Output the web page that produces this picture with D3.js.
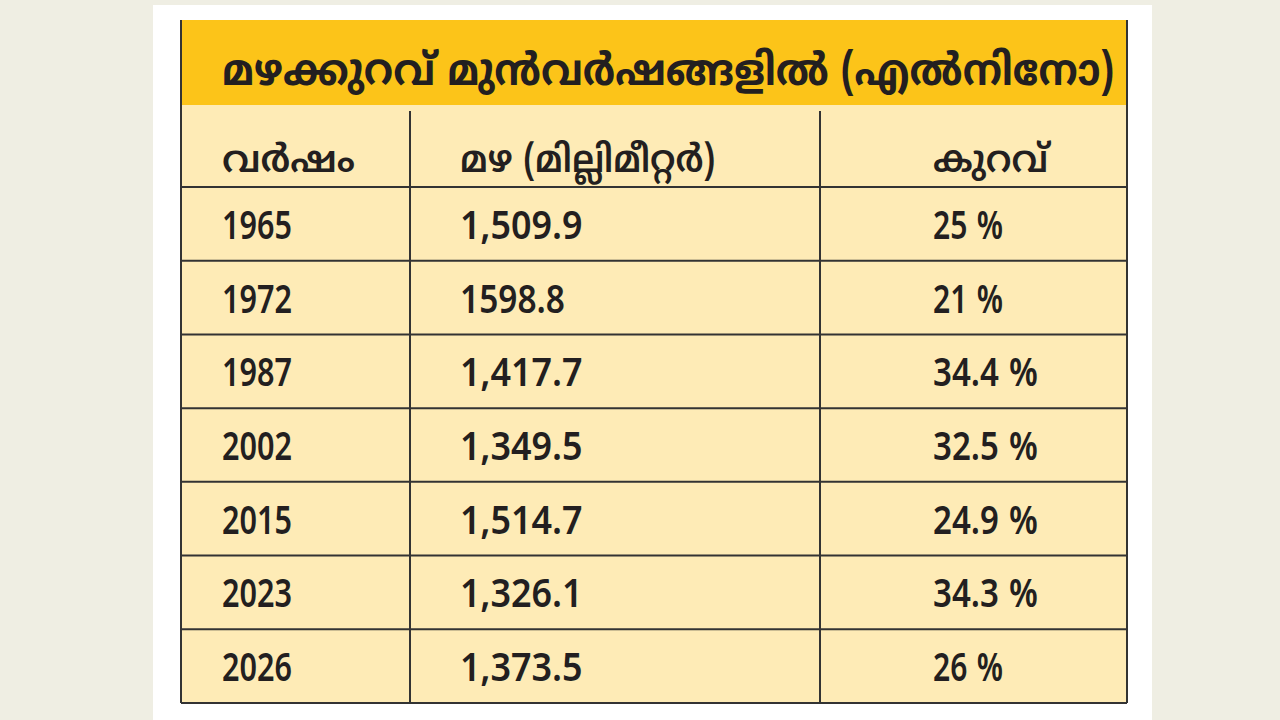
<!DOCTYPE html>
<html><head><meta charset="utf-8">
<script src="https://cdn.jsdelivr.net/npm/d3@7"></script>
<style>body{margin:0;background:#efeee3;} text{font-family:"Noto Sans Malayalam","Noto Sans","Roboto Condensed","Liberation Sans Narrow",sans-serif;}</style>
</head><body>
<svg id="c" width="1280" height="720"></svg>
<script>
const title = "മഴക്കുറവ് മുൻവർഷങ്ങളിൽ (എൽനിനോ)";
const headers = ["വർഷം", "മഴ (മില്ലിമീറ്റർ)", "കുറവ്"];
const years = ["1965", "1972", "1987", "2002", "2015", "2023", "2026"];
const rainfall = ["1,509.9", "1598.8", "1,417.7", "1,349.5", "1,514.7", "1,326.1", "1,373.5"];
const deficit = ["25 %", "21 %", "34.4 %", "32.5 %", "24.9 %", "34.3 %", "26 %"];

const svg = d3.select("#c");
svg.append("rect").attr("x", 153).attr("y", 5).attr("width", 999).attr("height", 715).attr("fill", "#fff");

const left = 181, right = 1127, titleTop = 20, headTop = 105, headBottom = 187, bottom = 703;
const colX = [left, 410, 820, right];
const textX = [222, 460, 933];
const headW = [133, 255, 115];

svg.append("rect").attr("x", left).attr("y", titleTop).attr("width", right - left).attr("height", headTop - titleTop).attr("fill", "#fcc419");
svg.append("rect").attr("x", left).attr("y", headTop).attr("width", right - left).attr("height", bottom - headTop).attr("fill", "#feebb6");
svg.append("text").attr("x", 222).attr("y", 85).attr("font-size", 44).attr("font-weight", "bold")
  .attr("textLength", 892).attr("lengthAdjust", "spacingAndGlyphs").attr("fill", "#231f20").text(title);

const y = d3.scaleBand().domain(years).range([headBottom, bottom]);

const g = svg.append("g").attr("stroke", "#333").attr("stroke-width", 2);
g.append("line").attr("x1", left).attr("x2", left).attr("y1", titleTop).attr("y2", bottom);
g.append("line").attr("x1", right).attr("x2", right).attr("y1", titleTop).attr("y2", bottom);
g.append("line").attr("x1", left).attr("x2", right).attr("y1", bottom).attr("y2", bottom);
g.append("line").attr("x1", left).attr("x2", right).attr("y1", headBottom).attr("y2", headBottom);
g.selectAll(".rl").data(years.slice(1)).join("line")
  .attr("x1", left).attr("x2", right).attr("y1", d => y(d)).attr("y2", d => y(d));
g.selectAll(".cl").data(colX.slice(1, 3)).join("line")
  .attr("x1", d => d).attr("x2", d => d).attr("y1", headTop + 6).attr("y2", bottom);

headers.forEach((h, i) => svg.append("text").attr("x", textX[i]).attr("y", 172).attr("font-size", 38)
  .attr("font-weight", 600).attr("textLength", headW[i]).attr("lengthAdjust", "spacingAndGlyphs")
  .attr("fill", "#231f20").text(h));

[years, rainfall, deficit].forEach((col, i) => {
  svg.selectAll(".c" + i).data(col).join("text")
    .attr("x", textX[i]).attr("y", (d, j) => y(years[j]) + y.bandwidth() / 2 + 15)
    .attr("font-size", 40).attr("font-weight", 600).attr("fill", "#231f20")
    .attr("textLength", d => d.length * 17.5).attr("lengthAdjust", "spacingAndGlyphs")
    .text(d => d);
});
</script></body></html>
